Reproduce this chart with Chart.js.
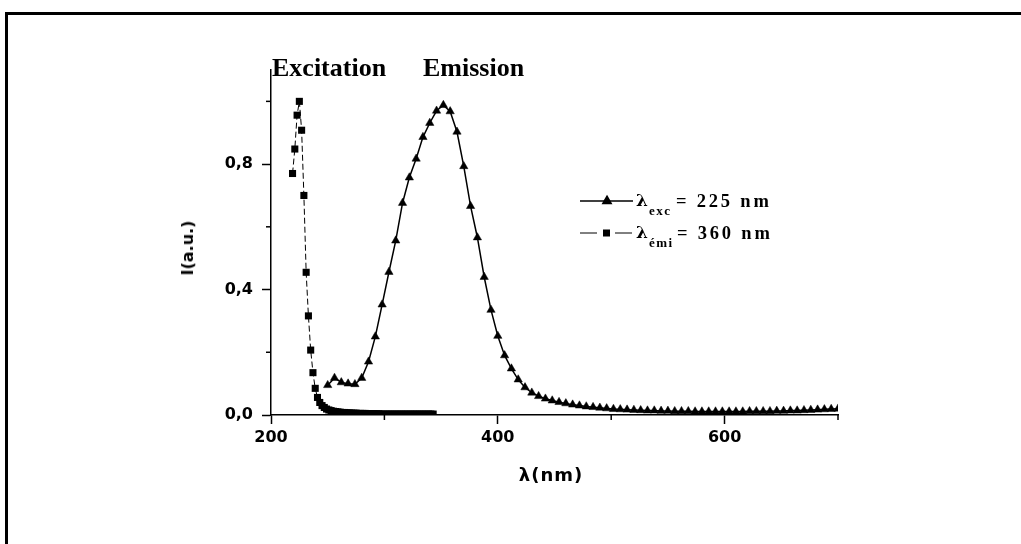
<!DOCTYPE html>
<html>
<head>
<meta charset="utf-8">
<script src="https://cdn.jsdelivr.net/npm/chart.js@4.4.1/dist/chart.umd.min.js"></script>
<style>
  html, body { margin: 0; padding: 0; background: #fff; }
  #wrap { position: relative; width: 1021px; height: 544px; overflow: hidden; background: #fff; }
  #frame { position: absolute; left: 5px; top: 12px; width: 1100px; height: 700px; border-left: 3px solid #000; border-top: 3px solid #000; }
  canvas { position: absolute; left: 0; top: 0; }
  .t { position: absolute; white-space: nowrap; line-height: 1; color: #000; }
  .serif { font-family: "Liberation Serif", "Times New Roman", serif; font-weight: bold; }
  .greek { font-family: "DejaVu Serif", serif; font-weight: bold; }
  .sans { font-family: "DejaVu Sans", sans-serif; font-weight: bold; }
</style>
</head>
<body>
<div id="wrap">
  <div id="frame"></div>
  <canvas id="c" width="1021" height="544"></canvas>
  <div class="t serif" style="left:272px; top:55px; font-size:26px;">Excitation</div>
  <div class="t serif" style="left:423px; top:55px; font-size:26px;">Emission</div>

  <div class="t greek" style="left:636px; top:192px; font-size:17px;">λ</div>
  <div class="t serif" style="left:649px; top:204px; font-size:13px; letter-spacing:1.5px;">exc</div>
  <div class="t serif" style="left:676px; top:192px; font-size:18.5px; letter-spacing:2.8px;">= 225 nm</div>

  <div class="t greek" style="left:636px; top:224px; font-size:17px;">λ</div>
  <div class="t serif" style="left:649px; top:236px; font-size:13px; letter-spacing:1.5px;">émi</div>
  <div class="t serif" style="left:677px; top:224px; font-size:18.5px; letter-spacing:2.8px;">= 360 nm</div>

  <div class="t sans" style="left:188px; top:248px; font-size:16px; transform: translate(-50%,-50%) rotate(-90deg);">I(a.u.)</div>
  <div class="t sans" style="left:551px; top:475px; font-size:18px; letter-spacing:1px; transform: translate(-50%,-50%);">λ(nm)</div>
</div>
<script>
// ---- Data ----
// Excitation spectrum (λemi = 360 nm), squares
const excWavelength = [219,221,223,225,227,229,231,233,235,237,239,241,243,245,247,249,251,253,255,257,259,261,263,265,267,269,271,273,275,277,279,281,283,285,287,289,291,293,295,297,299,301,303,305,307,309,311,313,315,317,319,321,323,325,327,329,331,333,335,337,339,341,343];
const excIntensity = [0.770,0.848,0.956,1.000,0.908,0.700,0.455,0.316,0.207,0.135,0.085,0.056,0.040,0.030,0.024,0.019,0.016,0.014,0.012,0.011,0.010,0.009,0.008,0.008,0.007,0.007,0.006,0.006,0.006,0.005,0.005,0.005,0.005,0.004,0.004,0.004,0.004,0.004,0.004,0.003,0.003,0.003,0.003,0.003,0.003,0.003,0.003,0.003,0.003,0.003,0.003,0.003,0.003,0.003,0.003,0.003,0.003,0.003,0.003,0.003,0.003,0.003,0.003];

// Emission spectrum (λexc = 225 nm), triangles
const emWavelength = [250,256,262,268,274,280,286,292,298,304,310,316,322,328,334,340,346,352,358,364,370,376,382,388,394,400,406,412,418,424,430,436,442,448,454,460,466,472,478,484,490,496,502,508,514,520,526,532,538,544,550,556,562,568,574,580,586,592,598,604,610,616,622,628,634,640,646,652,658,664,670,676,682,688,694,700];
const emIntensity = [0.095,0.118,0.104,0.100,0.098,0.118,0.170,0.250,0.352,0.456,0.556,0.676,0.757,0.817,0.886,0.931,0.970,0.988,0.968,0.903,0.793,0.666,0.566,0.440,0.335,0.252,0.190,0.148,0.113,0.088,0.071,0.060,0.052,0.046,0.041,0.037,0.033,0.030,0.027,0.025,0.023,0.021,0.019,0.018,0.017,0.016,0.015,0.014,0.014,0.013,0.013,0.012,0.012,0.012,0.011,0.011,0.011,0.011,0.011,0.011,0.011,0.011,0.012,0.012,0.012,0.012,0.013,0.013,0.014,0.014,0.015,0.016,0.017,0.018,0.019,0.020];

// Axis ticks
const xTickValues = [200,300,400,500,600,700];
const xMajorValues = [200,400,600];
const yTickValues = [0,0.2,0.4,0.6,0.8,1.0];
const yMajorValues = [0,0.4,0.8];
const yMajorLabels = ['0,0','0,4','0,8'];

// ---- Chart ----
const isIn = (arr, v) => arr.some(a => Math.abs(a - v) < 1e-6);

const minorTicks = {
  id: 'minorTicks',
  afterDraw(chart) {
    const ctx = chart.ctx;
    const xs = chart.scales.x, ys = chart.scales.y;
    ctx.save();
    ctx.strokeStyle = '#000';
    ctx.lineWidth = 1.5;
    xTickValues.filter(v => !isIn(xMajorValues, v)).forEach(v => {
      const px = xs.getPixelForValue(v);
      ctx.beginPath(); ctx.moveTo(px, ys.bottom); ctx.lineTo(px, ys.bottom + 5); ctx.stroke();
    });
    yTickValues.filter(v => !isIn(yMajorValues, v)).forEach(v => {
      const py = ys.getPixelForValue(v);
      ctx.beginPath(); ctx.moveTo(xs.left, py); ctx.lineTo(xs.left - 5, py); ctx.stroke();
    });
    ctx.restore();
  }
};

const legendSamples = {
  id: 'legendSamples',
  afterDraw(chart) {
    const ctx = chart.ctx;
    ctx.save();
    ctx.strokeStyle = '#000';
    ctx.fillStyle = '#000';
    // row 1: solid line + triangle
    ctx.lineWidth = 1.5;
    ctx.beginPath(); ctx.moveTo(580, 201); ctx.lineTo(633, 201); ctx.stroke();
    Chart.helpers.drawPoint(ctx, {pointStyle: 'triangle', radius: 4.8, rotation: 0, borderWidth: 1}, 607, 201);
    ctx.fill();
    // row 2: dashed line + square
    ctx.lineWidth = 1;
    ctx.beginPath(); ctx.moveTo(580, 233); ctx.lineTo(597, 233); ctx.moveTo(615, 233); ctx.lineTo(632, 233); ctx.stroke();
    ctx.fillRect(603, 229.5, 7, 7);
    ctx.restore();
  }
};

new Chart(document.getElementById('c'), {
  type: 'line',
  data: {
    datasets: [
      {
        label: 'λexc = 225 nm',
        data: emWavelength.map((w, i) => ({x: w, y: emIntensity[i]})),
        borderColor: '#000',
        backgroundColor: '#000',
        borderWidth: 1.5,
        pointStyle: 'triangle',
        pointRadius: 4.8,
        pointBorderWidth: 0.5,
        pointBackgroundColor: '#000',
        pointBorderColor: '#000',
        tension: 0,
        fill: false
      },
      {
        label: 'λémi = 360 nm',
        data: excWavelength.map((w, i) => ({x: w, y: excIntensity[i]})),
        borderColor: '#000',
        backgroundColor: '#000',
        borderWidth: 1,
        borderDash: [6, 3],
        pointStyle: 'rect',
        pointRadius: 5,
        pointBorderWidth: 0,
        pointBackgroundColor: '#000',
        pointBorderColor: '#000',
        tension: 0,
        fill: false
      }
    ]
  },
  options: {
    responsive: false,
    animation: false,
    devicePixelRatio: 1,
    layout: { padding: { left: 0, top: 70, right: 183, bottom: 0 } },
    plugins: { legend: { display: false }, tooltip: { enabled: false }, title: { display: false } },
    scales: {
      x: {
        type: 'linear',
        min: 200, max: 700,
        afterBuildTicks: s => { s.ticks = xTickValues.map(v => ({value: v})); },
        afterFit: s => { s.height = 129; },
        ticks: {
          autoSkip: false, maxRotation: 0,
          color: '#000', padding: 4,
          font: { family: 'DejaVu Sans', weight: 'bold', size: 16 },
          callback: v => isIn(xMajorValues, v) ? String(Math.round(v)) : ''
        },
        grid: {
          drawOnChartArea: false, drawTicks: true, tickLength: 9, tickWidth: 1.5,
          tickColor: c => (c.tick && isIn(xMajorValues, c.tick.value)) ? '#000' : 'rgba(0,0,0,0)'
        },
        border: { display: true, color: '#000', width: 1.5 }
      },
      y: {
        type: 'linear',
        min: 0, max: 1.1,
        afterBuildTicks: s => { s.ticks = yTickValues.map(v => ({value: v})); },
        afterFit: s => { s.width = 271; },
        ticks: {
          autoSkip: false,
          color: '#000', padding: 9,
          font: { family: 'DejaVu Sans', weight: 'bold', size: 16 },
          callback: v => { const k = yMajorValues.findIndex(a => Math.abs(a - v) < 1e-6); return k >= 0 ? yMajorLabels[k] : ''; }
        },
        grid: {
          drawOnChartArea: false, drawTicks: true, tickLength: 9, tickWidth: 1.5,
          tickColor: c => (c.tick && isIn(yMajorValues, c.tick.value)) ? '#000' : 'rgba(0,0,0,0)'
        },
        border: { display: true, color: '#000', width: 1.5 }
      }
    }
  },
  plugins: [minorTicks, legendSamples]
});
</script>
</body>
</html>
